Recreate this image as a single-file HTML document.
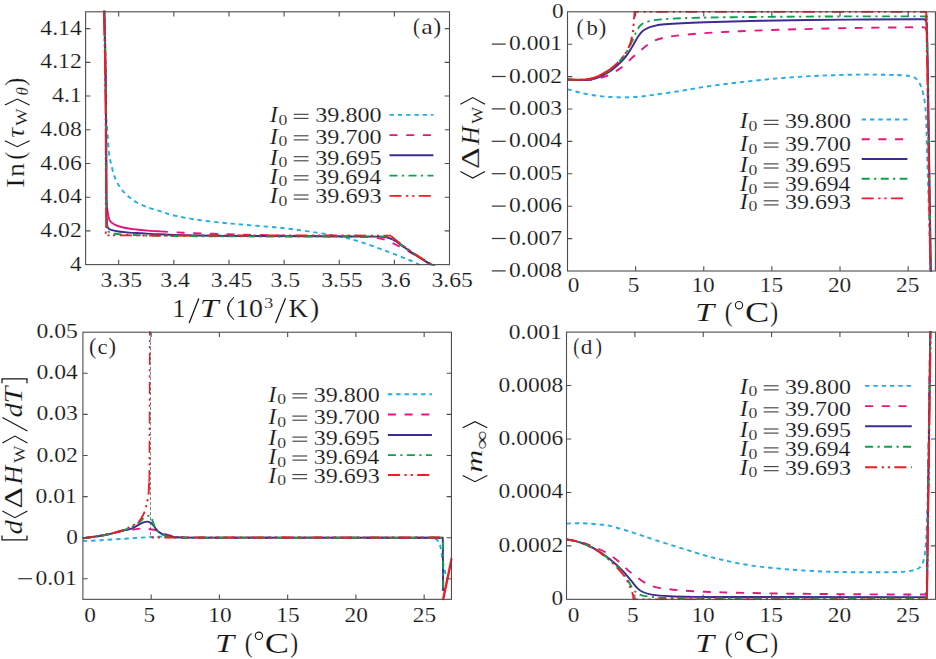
<!DOCTYPE html>
<html><head><meta charset="utf-8"><title>figure</title>
<style>html,body{margin:0;padding:0;background:#fff;overflow:hidden;width:936px;height:659px}svg{display:block;font-family:"Liberation Serif",serif;fill:#161616}text{stroke:#fff;stroke-width:0.16px}</style>
</head><body>
<svg width="936" height="659" viewBox="0 0 936 659">
<rect width="936" height="659" fill="#fff"/>
<defs>
<clipPath id="ca"><rect x="84.6" y="10.8" width="365.9" height="254.8"/></clipPath>
<clipPath id="cb"><rect x="566.5" y="10.8" width="369.9" height="261.2"/></clipPath>
<clipPath id="cc"><rect x="81.9" y="331.2" width="370.55" height="269.15"/></clipPath>
<clipPath id="cd"><rect x="565.5" y="331.1" width="371.1" height="269.25"/></clipPath>
</defs>
<path d="M104.4 10 L104.67 20.8 L104.94 31.6 L105.2 42.4 L105.4 53.2 L105.61 64 L105.75 74.8 L105.87 85.6 L105.99 96.4 L106.11 107.2 L106.23 118 L106.23 118 C106.46 120.83 107.12 129.07 107.6 135 C108.08 140.93 108.45 148.47 109.1 153.6 C109.75 158.73 110.58 161.95 111.5 165.8 C112.42 169.65 113.28 173.27 114.6 176.7 C115.92 180.13 117.38 183.37 119.4 186.4 C121.42 189.43 123.87 192.27 126.7 194.9 C129.53 197.53 132.77 200.08 136.4 202.2 C140.03 204.32 144.45 206.08 148.5 207.6 C152.55 209.12 156.82 210.07 160.7 211.3 C164.58 212.53 166 213.63 171.8 215 C177.6 216.37 186.97 218.2 195.5 219.5 C204.03 220.8 214.75 221.92 223 222.8 C231.25 223.68 234.83 223.9 245 224.8 C255.17 225.7 272.08 226.9 284 228.2 C295.92 229.5 307.25 231.23 316.5 232.6 C325.75 233.97 332.42 234.92 339.5 236.4 C346.58 237.88 351.58 239.2 359 241.5 C366.42 243.8 375.67 247.12 384 250.2 C392.33 253.28 403.17 257.6 409 260 C414.83 262.4 416.33 263.35 419 264.6 C421.67 265.85 424 267.02 425 267.5" fill="none" stroke="#22ade6" stroke-width="1.9" stroke-dasharray="4.4 3.9" clip-path="url(#ca)" stroke-linejoin="round"/>
<path d="M104.15 10 L104.62 29 L105.05 48 L105.41 67 L105.62 86 L105.83 105 L106.02 124 L106.1 143 L106.18 162 L106.27 181 L106.37 200 L106.37 200 C106.47 201.17 106.74 204.82 107 207 C107.26 209.18 107.45 210.87 107.9 213.1 C108.35 215.33 108.58 218.48 109.7 220.4 C110.82 222.32 112.17 223.38 114.6 224.6 C117.03 225.82 120.67 226.88 124.3 227.7 C127.93 228.52 132.45 229.02 136.4 229.5 C140.35 229.98 144.07 230.28 148 230.6 C151.93 230.92 158 231.27 160 231.4" fill="none" stroke="#e6167f" stroke-width="1.9" clip-path="url(#ca)" stroke-linejoin="round"/>
<path d="M160 231.4 C163.93 231.62 174.77 232.3 183.6 232.7 C192.43 233.1 202.77 233.47 213 233.8 C223.23 234.13 230.5 234.35 245 234.7 C259.5 235.05 282.5 235.6 300 235.9 C317.5 236.2 338.67 236.32 350 236.5 C361.33 236.68 363.67 236.77 368 237 C372.33 237.23 373.22 237.45 376 237.9 C378.78 238.35 381.3 238.52 384.7 239.7 C388.1 240.88 392.1 242.88 396.4 245 C400.7 247.12 406.57 250.2 410.5 252.4 C414.43 254.6 416.62 256.17 420 258.2 C423.38 260.23 428.3 263.1 430.8 264.6 C433.3 266.1 434.3 266.77 435 267.2" fill="none" stroke="#e6167f" stroke-width="1.9" stroke-dasharray="8 8.7" clip-path="url(#ca)" stroke-linejoin="round"/>
<path d="M104.3 10 L104.81 30.6 L105.27 51.2 L105.61 71.8 L105.84 92.4 L106.07 113 L106.21 133.6 L106.3 154.2 L106.39 174.8 L106.49 195.4 L106.6 216 L106.6 216 C106.69 217.4 106.88 222.43 107.1 224.4 C107.32 226.37 107.23 226.88 107.9 227.8 C108.57 228.72 109.33 229.28 111.1 229.9 C112.87 230.52 115.48 231.05 118.5 231.5 C121.52 231.95 125.28 232.3 129.2 232.6 C133.12 232.9 136.87 233.02 142 233.3 C147.13 233.58 153.07 233.98 160 234.3 C166.93 234.62 169.43 234.92 183.6 235.2 C197.77 235.48 212.27 235.77 245 236 C277.73 236.23 357.5 236.5 380 236.6 L380 236.6 C381 236.72 384.25 236.95 386 237.3 C387.75 237.65 388.97 238.08 390.5 238.7 C392.03 239.32 392.85 239.53 395.2 241 C397.55 242.47 401.07 245.05 404.6 247.5 C408.13 249.95 411.95 252.85 416.4 255.7 C420.85 258.55 428.03 262.65 431.3 264.6 C434.57 266.55 435.22 266.93 436 267.4" fill="none" stroke="#3a2c92" stroke-width="1.9" clip-path="url(#ca)" stroke-linejoin="round"/>
<path d="M104.25 10 L104.78 31.2 L105.24 52.4 L105.58 73.6 L105.82 94.8 L106.06 116 L106.17 137.2 L106.27 158.4 L106.36 179.6 L106.47 200.8 L106.58 222 L106.58 222 C106.65 223.17 106.66 227.4 107 229 C107.34 230.6 107.77 230.9 108.6 231.6 C109.43 232.3 109.37 232.7 112 233.2 C114.63 233.7 116.4 234.17 124.4 234.6 C132.4 235.03 139.9 235.5 160 235.8 C180.1 236.1 207.33 236.27 245 236.4 C282.67 236.53 362.5 236.57 386 236.6 L386 236.6 C386.83 236.83 389.33 237.32 391 238 C392.67 238.68 393.73 239.22 396 240.7 C398.27 242.18 401.2 244.5 404.6 246.9 C408 249.3 411.85 252.15 416.4 255.1 C420.95 258.05 428.63 262.58 431.9 264.6 C435.17 266.62 435.32 266.77 436 267.2" fill="none" stroke="#0aa24b" stroke-width="1.9" stroke-dasharray="8 4.4 2.2 4.4" clip-path="url(#ca)" stroke-linejoin="round"/>
<path d="M103.85 10 L104.4 31.8 L104.86 53.6 L105.2 75.4 L105.45 97.2 L105.69 119 L105.79 140.8 L105.88 162.6 L105.98 184.4 L106.1 206.2 L106.22 228" fill="none" stroke="#ee1c25" stroke-width="1.9" stroke-dasharray="26 2.5 3 2.5 3 2.5" clip-path="url(#ca)" stroke-linejoin="round"/>
<path d="M105.8 231.6 L105.8 235.4 L391 235.6" fill="none" stroke="#ee1c25" stroke-width="1.9" stroke-dasharray="2.2 3.2 2.2 3.4 2.2 4.6 12 4.6 2.2 3.9 2.2 4.4 12 4.6 2.2 3.9 2.2 4.4 12 4.6 2.2 3.9 2.2 4.4 12 4.6 2.2 3.9 2.2 4.4 12 4.6 2.2 3.9 2.2 4.4 12 4.6 2.2 3.9 2.2 4.4 12 4.6 2.2 3.9 2.2 4.4 12 4.6 2.2 3.9 2.2 4.4 12 4.6 2.2 3.9 2.2 4.4 12 4.6 2.2 3.9 2.2 4.4" clip-path="url(#ca)" stroke-linejoin="round"/>
<path d="M391 236 C391.43 236.37 392.43 237.23 393.6 238.2 C394.77 239.17 396.17 240.37 398 241.8 C399.83 243.23 401.53 244.58 404.6 246.8 C407.67 249.02 411.87 252.13 416.4 255.1 C420.93 258.07 428.53 262.57 431.8 264.6 C435.07 266.63 435.3 266.85 436 267.3" fill="none" stroke="#ee1c25" stroke-width="1.9" stroke-dasharray="12 4.6 2.2 3.9 2.2 4.4" clip-path="url(#ca)" stroke-linejoin="round"/>
<rect x="85.6" y="11.8" width="363.9" height="252.8" fill="none" stroke="#4e4e4e" stroke-width="1.1"/>
<path d="M118.68 264.6v-4.8 M118.68 11.8v4.8 M173.82 264.6v-4.8 M173.82 11.8v4.8 M228.96 264.6v-4.8 M228.96 11.8v4.8 M284.1 264.6v-4.8 M284.1 11.8v4.8 M339.24 264.6v-4.8 M339.24 11.8v4.8 M394.38 264.6v-4.8 M394.38 11.8v4.8 M85.6 230.89h4.8 M449.5 230.89h-4.8 M85.6 197.18h4.8 M449.5 197.18h-4.8 M85.6 163.47h4.8 M449.5 163.47h-4.8 M85.6 129.76h4.8 M449.5 129.76h-4.8 M85.6 96.05h4.8 M449.5 96.05h-4.8 M85.6 62.34h4.8 M449.5 62.34h-4.8 M85.6 28.63h4.8 M449.5 28.63h-4.8" stroke="#4e4e4e" stroke-width="1.1" fill="none"/>
<text x="100.61" y="286.9" font-size="22" textLength="41.35" lengthAdjust="spacingAndGlyphs">3.35</text>
<text x="160.27" y="286.9" font-size="22" textLength="29.7" lengthAdjust="spacingAndGlyphs">3.4</text>
<text x="210.89" y="286.9" font-size="22" textLength="41.35" lengthAdjust="spacingAndGlyphs">3.45</text>
<text x="270.55" y="286.9" font-size="22" textLength="29.7" lengthAdjust="spacingAndGlyphs">3.5</text>
<text x="321.17" y="286.9" font-size="22" textLength="41.35" lengthAdjust="spacingAndGlyphs">3.55</text>
<text x="380.83" y="286.9" font-size="22" textLength="29.7" lengthAdjust="spacingAndGlyphs">3.6</text>
<text x="431.45" y="286.9" font-size="22" textLength="41.35" lengthAdjust="spacingAndGlyphs">3.65</text>
<text x="70.05" y="270.7" font-size="22" textLength="11.65" lengthAdjust="spacingAndGlyphs">4</text>
<text x="40.35" y="236.99" font-size="22" textLength="41.35" lengthAdjust="spacingAndGlyphs">4.02</text>
<text x="40.35" y="203.28" font-size="22" textLength="41.35" lengthAdjust="spacingAndGlyphs">4.04</text>
<text x="40.35" y="169.57" font-size="22" textLength="41.35" lengthAdjust="spacingAndGlyphs">4.06</text>
<text x="40.35" y="135.86" font-size="22" textLength="41.35" lengthAdjust="spacingAndGlyphs">4.08</text>
<text x="52" y="102.15" font-size="22" textLength="29.7" lengthAdjust="spacingAndGlyphs">4.1</text>
<text x="40.35" y="68.44" font-size="22" textLength="41.35" lengthAdjust="spacingAndGlyphs">4.12</text>
<text x="40.35" y="34.73" font-size="22" textLength="41.35" lengthAdjust="spacingAndGlyphs">4.14</text>
<text x="172.45" y="317.1" font-size="24.7" textLength="12.78" lengthAdjust="spacingAndGlyphs">1</text>
<path d="M189.2 322.9L198.8 298.5" stroke="#161616" stroke-width="1.3"/>
<text x="199.79" y="317.1" font-size="25.3" textLength="18.81" lengthAdjust="spacingAndGlyphs" font-style="italic">T</text>
<path d="M233.8 297.2Q220.9 308.5 233.8 319.7Q222.9 308.5 233.8 297.2Z" fill="#161616" stroke="#161616" stroke-width="0.7" stroke-linejoin="round"/>
<text x="235.15" y="317.1" font-size="24.7" textLength="27.92" lengthAdjust="spacingAndGlyphs">10</text>
<text x="264.01" y="308.4" font-size="15.2" textLength="9.32" lengthAdjust="spacingAndGlyphs">3</text>
<path d="M275.6 322.9L285.5 298.2" stroke="#161616" stroke-width="1.3"/>
<text x="288.62" y="317.1" font-size="25.3" textLength="19.56" lengthAdjust="spacingAndGlyphs">K</text>
<text x="309.91" y="317.1" font-size="27.7" textLength="9.21" lengthAdjust="spacingAndGlyphs">)</text>
<text x="412.88" y="34.3" font-size="23.3" textLength="7" lengthAdjust="spacingAndGlyphs">(</text>
<text x="421.18" y="34.3" font-size="20.8" textLength="11.57" lengthAdjust="spacingAndGlyphs">a</text>
<text x="433.23" y="34.3" font-size="23.3" textLength="7.91" lengthAdjust="spacingAndGlyphs">)</text>
<g transform="translate(23.6,186.7) rotate(-90)">
<text x="-1.02" y="0" font-size="25.3" textLength="9.42" lengthAdjust="spacingAndGlyphs">I</text>
<text x="9.76" y="0" font-size="25.3" textLength="13.86" lengthAdjust="spacingAndGlyphs">n</text>
<text x="27.09" y="0" font-size="27.7" textLength="7.65" lengthAdjust="spacingAndGlyphs">(</text>
<path d="M45.9 -18.7L40 -6.35L45.9 6" fill="none" stroke="#161616" stroke-width="1.15"/>
<text x="48.68" y="0" font-size="25.3" textLength="10.07" lengthAdjust="spacingAndGlyphs" font-style="italic">τ</text>
<text x="60.98" y="3.5" font-size="17.6" textLength="17.35" lengthAdjust="spacingAndGlyphs">W</text>
<path d="M81.7 -18.7L87.6 -6.35L81.7 6" fill="none" stroke="#161616" stroke-width="1.15"/>
<text x="91.27" y="4" font-size="17.5" textLength="8.32" lengthAdjust="spacingAndGlyphs" font-style="italic">θ</text>
<text x="100.6" y="0" font-size="27.7" textLength="8.3" lengthAdjust="spacingAndGlyphs">)</text>
</g>
<text x="269.69" y="122.3" font-size="22.3" textLength="8.06" lengthAdjust="spacingAndGlyphs" font-style="italic">I</text>
<text x="278.63" y="124.9" font-size="14.2" textLength="8.85" lengthAdjust="spacingAndGlyphs">0</text>
<path d="M293.7 114.3H308.5" stroke="#3c3c3c" stroke-width="1.1"/>
<path d="M293.7 118.4H308.5" stroke="#3c3c3c" stroke-width="1.1"/>
<text x="315.24" y="122.3" font-size="22" textLength="66.43" lengthAdjust="spacingAndGlyphs">39.800</text>
<path d="M389.5 114.9H433.4" stroke="#22ade6" stroke-width="1.9" stroke-dasharray="4.4 3.9"/>
<text x="269.69" y="143.8" font-size="22.3" textLength="8.06" lengthAdjust="spacingAndGlyphs" font-style="italic">I</text>
<text x="278.63" y="146.4" font-size="14.2" textLength="8.85" lengthAdjust="spacingAndGlyphs">0</text>
<path d="M293.7 135.8H308.5" stroke="#3c3c3c" stroke-width="1.1"/>
<path d="M293.7 139.9H308.5" stroke="#3c3c3c" stroke-width="1.1"/>
<text x="315.24" y="143.8" font-size="22" textLength="66.43" lengthAdjust="spacingAndGlyphs">39.700</text>
<path d="M389.5 135.1H433.4" stroke="#e6167f" stroke-width="1.9" stroke-dasharray="8 8.7"/>
<text x="269.69" y="164.7" font-size="22.3" textLength="8.06" lengthAdjust="spacingAndGlyphs" font-style="italic">I</text>
<text x="278.63" y="167.3" font-size="14.2" textLength="8.85" lengthAdjust="spacingAndGlyphs">0</text>
<path d="M293.7 156.7H308.5" stroke="#3c3c3c" stroke-width="1.1"/>
<path d="M293.7 160.8H308.5" stroke="#3c3c3c" stroke-width="1.1"/>
<text x="315.24" y="164.7" font-size="22" textLength="66.45" lengthAdjust="spacingAndGlyphs">39.695</text>
<path d="M389.5 155.3H433.4" stroke="#3a2c92" stroke-width="1.9"/>
<text x="269.69" y="183.8" font-size="22.3" textLength="8.06" lengthAdjust="spacingAndGlyphs" font-style="italic">I</text>
<text x="278.63" y="186.4" font-size="14.2" textLength="8.85" lengthAdjust="spacingAndGlyphs">0</text>
<path d="M293.7 175.8H308.5" stroke="#3c3c3c" stroke-width="1.1"/>
<path d="M293.7 179.9H308.5" stroke="#3c3c3c" stroke-width="1.1"/>
<text x="315.25" y="183.8" font-size="22" textLength="65.87" lengthAdjust="spacingAndGlyphs">39.694</text>
<path d="M389.5 175.6H433.4" stroke="#0aa24b" stroke-width="1.9" stroke-dasharray="8 4.4 2.2 4.4"/>
<text x="269.69" y="203" font-size="22.3" textLength="8.06" lengthAdjust="spacingAndGlyphs" font-style="italic">I</text>
<text x="278.63" y="205.6" font-size="14.2" textLength="8.85" lengthAdjust="spacingAndGlyphs">0</text>
<path d="M293.7 195H308.5" stroke="#3c3c3c" stroke-width="1.1"/>
<path d="M293.7 199.1H308.5" stroke="#3c3c3c" stroke-width="1.1"/>
<text x="315.24" y="203" font-size="22" textLength="66.45" lengthAdjust="spacingAndGlyphs">39.693</text>
<path d="M389.5 195.9H433.4" stroke="#ee1c25" stroke-width="1.9" stroke-dasharray="12 4.6 2.2 3.9 2.2 4.4"/>
<path d="M567.5 89.3 C569.58 89.85 575.43 91.57 580 92.6 C584.57 93.63 589.9 94.77 594.9 95.5 C599.9 96.23 605.02 96.68 610 97 C614.98 97.32 619.8 97.47 624.8 97.4 C629.8 97.33 635.02 97.05 640 96.6 C644.98 96.15 647.25 95.75 654.7 94.7 C662.15 93.65 676.32 91.62 684.7 90.3 C693.08 88.98 695.78 88.13 705 86.8 C714.22 85.47 727.5 83.73 740 82.3 C752.5 80.87 766.67 79.3 780 78.2 C793.33 77.1 806.67 76.3 820 75.7 C833.33 75.1 848.33 74.73 860 74.6 C871.67 74.47 882.83 74.78 890 74.9 C897.17 75.02 899.67 75.08 903 75.3 C906.33 75.52 907.82 75.65 910 76.2 C912.18 76.75 914.32 77.03 916.1 78.6 C917.88 80.17 919.48 82.92 920.7 85.6 C921.92 88.28 922.65 91.37 923.4 94.7 C924.15 98.03 924.75 101.65 925.2 105.6 C925.65 109.55 925.8 111 926.1 118.4 C926.4 125.8 926.58 136.4 927 150 C927.42 163.6 928.03 179.67 928.6 200 C929.17 220.33 930.1 260 930.4 272" fill="none" stroke="#22ade6" stroke-width="1.9" stroke-dasharray="4.4 3.9" clip-path="url(#cb)" stroke-linejoin="round"/>
<path d="M567.5 79.4 C569.58 79.52 575.93 80.03 580 80.1 C584.07 80.17 588.57 80.15 591.9 79.8 C595.23 79.45 597.1 78.85 600 78 C602.9 77.15 605.73 76.45 609.3 74.7 C612.87 72.95 617.37 70.53 621.4 67.5 C625.43 64.47 630.07 59.53 633.5 56.5 C636.93 53.47 639.57 51.32 642 49.3 C644.43 47.28 645.98 45.88 648.1 44.4 C650.22 42.92 651.1 41.7 654.7 40.4 C658.3 39.1 662.72 37.72 669.7 36.6 C676.68 35.48 684.88 34.6 696.6 33.7 C708.32 32.8 722.77 31.95 740 31.2 C757.23 30.45 780 29.75 800 29.2 C820 28.65 840.83 28.22 860 27.9 C879.17 27.58 904.42 27.4 915 27.3 C925.58 27.2 922.08 27.3 923.5 27.3 L923.5 27.3 L925.8 27.9 L926.6 31 L927.3 60 L929.1 180 L930.6 272" fill="none" stroke="#e6167f" stroke-width="1.9" stroke-dasharray="8 8.7" clip-path="url(#cb)" stroke-linejoin="round"/>
<path d="M567.5 79.6 C569.58 79.68 576.25 80.12 580 80.1 C583.75 80.08 587.15 79.87 590 79.5 C592.85 79.13 593.88 79.18 597.1 77.9 C600.32 76.62 605.25 74.53 609.3 71.8 C613.35 69.07 618.37 64.43 621.4 61.5 C624.43 58.57 625.48 57.03 627.5 54.2 C629.52 51.37 631.68 47.53 633.5 44.5 C635.32 41.47 636.77 38.33 638.4 36 C640.03 33.67 641.48 31.95 643.3 30.5 C645.12 29.05 647.35 28.08 649.3 27.3 C651.25 26.52 652.38 26.32 655 25.8 C657.62 25.28 656.67 24.78 665 24.2 C673.33 23.62 689.17 22.87 705 22.3 C720.83 21.73 735.83 21.25 760 20.8 C784.17 20.35 823.33 19.85 850 19.6 C876.67 19.35 907.58 19.32 920 19.3 C932.42 19.28 923.75 19.47 924.5 19.5 L924.5 19.5 L926 20.6 L926.9 24 L927.7 60 L929.5 180 L930.9 272" fill="none" stroke="#3a2c92" stroke-width="1.9" clip-path="url(#cb)" stroke-linejoin="round"/>
<path d="M567.5 79.4 C569.58 79.47 576.25 79.87 580 79.8 C583.75 79.73 587.15 79.47 590 79 C592.85 78.53 593.88 78.43 597.1 77 C600.32 75.57 605.25 73.4 609.3 70.4 C613.35 67.4 618.37 62.32 621.4 59 C624.43 55.68 625.48 53.95 627.5 50.5 C629.52 47.05 631.88 41.75 633.5 38.3 C635.12 34.85 635.98 32.02 637.2 29.8 C638.42 27.58 639.38 26.25 640.8 25 C642.22 23.75 643.33 23.12 645.7 22.3 C648.07 21.48 650.95 20.68 655 20.1 C659.05 19.52 662.57 19.2 670 18.8 C677.43 18.4 684.6 18.02 699.6 17.7 C714.6 17.38 734.93 17.12 760 16.9 C785.07 16.68 823 16.48 850 16.4 C877 16.32 909.5 16.37 922 16.4 C934.5 16.43 924.5 16.57 925 16.6 L925 16.6 L926.2 17.6 L926.8 22 L927.5 60 L929.3 180 L930.7 272" fill="none" stroke="#0aa24b" stroke-width="1.9" stroke-dasharray="8 4.4 2.2 4.4" clip-path="url(#cb)" stroke-linejoin="round"/>
<path d="M567.5 79.5 C569.58 79.55 576.25 79.92 580 79.8 C583.75 79.68 587.15 79.33 590 78.8 C592.85 78.27 594.93 77.47 597.1 76.6 C599.27 75.73 600.97 74.72 603 73.6 C605.03 72.48 608.25 70.52 609.3 69.9" fill="none" stroke="#ee1c25" stroke-width="1.9" clip-path="url(#cb)" stroke-linejoin="round"/>
<path d="M609.3 69.9 C610.72 68.68 615.18 65.23 617.8 62.6 C620.42 59.97 622.98 57.13 625 54.1 C627.02 51.07 628.58 48.03 629.9 44.4 C631.22 40.77 632.23 36.35 632.9 32.3 C633.57 28.25 633.65 23.03 633.9 20.1 C634.15 17.17 634.28 16.08 634.4 14.7 C634.52 13.32 634.57 12.28 634.6 11.8 L634.6 11.8 L926.2 11.8" fill="none" stroke="#ee1c25" stroke-width="1.9" stroke-dasharray="12 4.6 2.2 3.9 2.2 4.4" clip-path="url(#cb)" stroke-linejoin="miter"/>
<path d="M926.2 11.8 L927.2 60 L929 180 L930.4 272" fill="none" stroke="#ee1c25" stroke-width="1.9" stroke-dasharray="30 2.5 3 2.5 3 2.5" clip-path="url(#cb)" stroke-linejoin="round"/>
<rect x="567.5" y="11.8" width="367.9" height="259.2" fill="none" stroke="#4e4e4e" stroke-width="1.1"/>
<path d="M635.63 271v-4.8 M635.63 11.8v4.8 M703.76 271v-4.8 M703.76 11.8v4.8 M771.89 271v-4.8 M771.89 11.8v4.8 M840.02 271v-4.8 M840.02 11.8v4.8 M908.15 271v-4.8 M908.15 11.8v4.8 M567.5 44.2h4.8 M935.4 44.2h-4.8 M567.5 76.6h4.8 M935.4 76.6h-4.8 M567.5 109h4.8 M935.4 109h-4.8 M567.5 141.4h4.8 M935.4 141.4h-4.8 M567.5 173.8h4.8 M935.4 173.8h-4.8 M567.5 206.2h4.8 M935.4 206.2h-4.8 M567.5 238.6h4.8 M935.4 238.6h-4.8" stroke="#4e4e4e" stroke-width="1.1" fill="none"/>
<text x="567.68" y="291.5" font-size="22" textLength="11.65" lengthAdjust="spacingAndGlyphs">0</text>
<text x="627.71" y="291.5" font-size="22" textLength="11.65" lengthAdjust="spacingAndGlyphs">5</text>
<text x="691.41" y="291.5" font-size="22" textLength="23.3" lengthAdjust="spacingAndGlyphs">10</text>
<text x="759.84" y="291.5" font-size="22" textLength="23.3" lengthAdjust="spacingAndGlyphs">15</text>
<text x="827.97" y="291.5" font-size="22" textLength="23.3" lengthAdjust="spacingAndGlyphs">20</text>
<text x="896.1" y="291.5" font-size="22" textLength="23.3" lengthAdjust="spacingAndGlyphs">25</text>
<text x="551.95" y="17.6" font-size="22" textLength="11.65" lengthAdjust="spacingAndGlyphs">0</text>
<text x="509" y="50.2" font-size="22" textLength="53" lengthAdjust="spacingAndGlyphs">0.001</text>
<path d="M491.8 44.1H505.7" stroke="#3a3a3a" stroke-width="1.25"/>
<text x="509" y="82.6" font-size="22" textLength="53" lengthAdjust="spacingAndGlyphs">0.002</text>
<path d="M491.8 76.5H505.7" stroke="#3a3a3a" stroke-width="1.25"/>
<text x="509" y="115" font-size="22" textLength="53" lengthAdjust="spacingAndGlyphs">0.003</text>
<path d="M491.8 108.9H505.7" stroke="#3a3a3a" stroke-width="1.25"/>
<text x="509" y="147.4" font-size="22" textLength="53" lengthAdjust="spacingAndGlyphs">0.004</text>
<path d="M491.8 141.3H505.7" stroke="#3a3a3a" stroke-width="1.25"/>
<text x="509" y="179.8" font-size="22" textLength="53" lengthAdjust="spacingAndGlyphs">0.005</text>
<path d="M491.8 173.7H505.7" stroke="#3a3a3a" stroke-width="1.25"/>
<text x="509" y="212.2" font-size="22" textLength="53" lengthAdjust="spacingAndGlyphs">0.006</text>
<path d="M491.8 206.1H505.7" stroke="#3a3a3a" stroke-width="1.25"/>
<text x="509" y="244.6" font-size="22" textLength="53" lengthAdjust="spacingAndGlyphs">0.007</text>
<path d="M491.8 238.5H505.7" stroke="#3a3a3a" stroke-width="1.25"/>
<text x="509" y="277" font-size="22" textLength="53" lengthAdjust="spacingAndGlyphs">0.008</text>
<path d="M491.8 270.9H505.7" stroke="#3a3a3a" stroke-width="1.25"/>
<text x="576.56" y="34.6" font-size="23.3" textLength="7.13" lengthAdjust="spacingAndGlyphs">(</text>
<text x="586.5" y="34.6" font-size="21.8" textLength="11.37" lengthAdjust="spacingAndGlyphs">b</text>
<text x="598.87" y="34.6" font-size="23.3" textLength="7.52" lengthAdjust="spacingAndGlyphs">)</text>
<text x="695.05" y="321" font-size="25.3" textLength="19.12" lengthAdjust="spacingAndGlyphs" font-style="italic">T</text>
<text x="724.76" y="321" font-size="27.7" textLength="7.91" lengthAdjust="spacingAndGlyphs">(</text>
<circle cx="739" cy="305.2" r="3.65" fill="none" stroke="#161616" stroke-width="1.1"/>
<text x="744.91" y="321.9" font-size="30" textLength="24.31" lengthAdjust="spacingAndGlyphs">C</text>
<text x="770.23" y="321" font-size="27.7" textLength="7.91" lengthAdjust="spacingAndGlyphs">)</text>
<g transform="translate(479.4,178) rotate(-90)">
<path d="M6.6 -19L0 -6.7L6.6 5.6" fill="none" stroke="#161616" stroke-width="1.15"/>
<text x="9.02" y="0" font-size="25.3" textLength="21.53" lengthAdjust="spacingAndGlyphs">Δ</text>
<text x="33.37" y="0" font-size="25.3" textLength="18.48" lengthAdjust="spacingAndGlyphs" font-style="italic">H</text>
<text x="54.28" y="3.2" font-size="17.6" textLength="16.75" lengthAdjust="spacingAndGlyphs">W</text>
<path d="M73.8 -19L80.4 -6.7L73.8 5.6" fill="none" stroke="#161616" stroke-width="1.15"/>
</g>
<text x="739.69" y="128.3" font-size="22.3" textLength="8.06" lengthAdjust="spacingAndGlyphs" font-style="italic">I</text>
<text x="748.63" y="130.9" font-size="14.2" textLength="8.85" lengthAdjust="spacingAndGlyphs">0</text>
<path d="M763.7 120.3H778.5" stroke="#3c3c3c" stroke-width="1.1"/>
<path d="M763.7 124.4H778.5" stroke="#3c3c3c" stroke-width="1.1"/>
<text x="785.05" y="128.3" font-size="22" textLength="65.96" lengthAdjust="spacingAndGlyphs">39.800</text>
<path d="M861.7 119.5H907.4" stroke="#22ade6" stroke-width="1.9" stroke-dasharray="4.4 3.9"/>
<text x="739.69" y="151" font-size="22.3" textLength="8.06" lengthAdjust="spacingAndGlyphs" font-style="italic">I</text>
<text x="748.63" y="153.6" font-size="14.2" textLength="8.85" lengthAdjust="spacingAndGlyphs">0</text>
<path d="M763.7 143H778.5" stroke="#3c3c3c" stroke-width="1.1"/>
<path d="M763.7 147.1H778.5" stroke="#3c3c3c" stroke-width="1.1"/>
<text x="785.05" y="151" font-size="22" textLength="65.96" lengthAdjust="spacingAndGlyphs">39.700</text>
<path d="M861.7 139.3H907.4" stroke="#e6167f" stroke-width="1.9" stroke-dasharray="8 8.7"/>
<text x="739.69" y="171.9" font-size="22.3" textLength="8.06" lengthAdjust="spacingAndGlyphs" font-style="italic">I</text>
<text x="748.63" y="174.5" font-size="14.2" textLength="8.85" lengthAdjust="spacingAndGlyphs">0</text>
<path d="M763.7 163.9H778.5" stroke="#3c3c3c" stroke-width="1.1"/>
<path d="M763.7 168H778.5" stroke="#3c3c3c" stroke-width="1.1"/>
<text x="785.05" y="171.9" font-size="22" textLength="65.99" lengthAdjust="spacingAndGlyphs">39.695</text>
<path d="M861.7 159H907.4" stroke="#3a2c92" stroke-width="1.9"/>
<text x="739.69" y="191" font-size="22.3" textLength="8.06" lengthAdjust="spacingAndGlyphs" font-style="italic">I</text>
<text x="748.63" y="193.6" font-size="14.2" textLength="8.85" lengthAdjust="spacingAndGlyphs">0</text>
<path d="M763.7 183H778.5" stroke="#3c3c3c" stroke-width="1.1"/>
<path d="M763.7 187.1H778.5" stroke="#3c3c3c" stroke-width="1.1"/>
<text x="785.06" y="191" font-size="22" textLength="65.41" lengthAdjust="spacingAndGlyphs">39.694</text>
<path d="M861.7 178.8H907.4" stroke="#0aa24b" stroke-width="1.9" stroke-dasharray="8 4.4 2.2 4.4"/>
<text x="739.69" y="208.8" font-size="22.3" textLength="8.06" lengthAdjust="spacingAndGlyphs" font-style="italic">I</text>
<text x="748.63" y="211.4" font-size="14.2" textLength="8.85" lengthAdjust="spacingAndGlyphs">0</text>
<path d="M763.7 200.8H778.5" stroke="#3c3c3c" stroke-width="1.1"/>
<path d="M763.7 204.9H778.5" stroke="#3c3c3c" stroke-width="1.1"/>
<text x="785.05" y="208.8" font-size="22" textLength="65.99" lengthAdjust="spacingAndGlyphs">39.693</text>
<path d="M861.7 198.4H907.4" stroke="#ee1c25" stroke-width="1.9" stroke-dasharray="12 4.6 2.2 3.9 2.2 4.4"/>
<path d="M82.9 541.1 C85.75 540.95 93.45 540.57 100 540.2 C106.55 539.83 115.53 539.32 122.2 538.9 C128.87 538.48 135.03 538.02 140 537.7 C144.97 537.38 148.67 537.18 152 537 C155.33 536.82 157 536.57 160 536.6 C163 536.63 163.33 537.02 170 537.2 C176.67 537.38 178.33 537.62 200 537.7 C221.67 537.78 261.67 537.68 300 537.7 C338.33 537.72 407.57 537.65 430 537.8 C452.43 537.95 433.27 538.07 434.6 538.6 C435.93 539.13 437.03 539.68 438 541 C438.97 542.32 439.63 543.33 440.4 546.5 C441.17 549.67 441.75 555.45 442.6 560 C443.45 564.55 444.77 570.63 445.5 573.8 C446.23 576.97 446.75 578.13 447 579" fill="none" stroke="#22ade6" stroke-width="1.9" stroke-dasharray="4.4 3.9" clip-path="url(#cc)" stroke-linejoin="round"/>
<path d="M82.9 538.2 C85.08 537.92 91.72 537.17 96 536.5 C100.28 535.83 104.6 535.03 108.6 534.2 C112.6 533.37 116.28 532.2 120 531.5 C123.72 530.8 127.97 530.43 130.9 530 C133.83 529.57 135.58 529.13 137.6 528.9 C139.62 528.67 141.38 528.6 143 528.6 C144.62 528.6 145.47 528.7 147.3 528.9 C149.13 529.1 152.22 529.42 154 529.8 C155.78 530.18 156.58 530.63 158 531.2 C159.42 531.77 160.33 532.47 162.5 533.2 C164.67 533.93 168.08 534.93 171 535.6 C173.92 536.27 176.83 536.85 180 537.2 C183.17 537.55 188.33 537.62 190 537.7 L190 537.7 L442.9 537.8 L443.2 591" fill="none" stroke="#e6167f" stroke-width="1.9" stroke-dasharray="8 8.7" clip-path="url(#cc)" stroke-linejoin="round"/>
<path d="M82.9 538.2 C85.08 537.92 91.72 537.17 96 536.5 C100.28 535.83 104.93 534.97 108.6 534.2 C112.27 533.43 115.27 532.57 118 531.9 C120.73 531.23 122.65 530.8 125 530.2 C127.35 529.6 129.7 529.28 132.1 528.3 C134.5 527.32 137.5 525.3 139.4 524.3 C141.3 523.3 142.18 522.75 143.5 522.3 C144.82 521.85 146.15 521.55 147.3 521.6 C148.45 521.65 149.48 522.1 150.4 522.6 C151.32 523.1 151.8 523.45 152.8 524.6 C153.8 525.75 154.98 527.98 156.4 529.5 C157.82 531.02 159.28 532.6 161.3 533.7 C163.32 534.8 166.28 535.55 168.5 536.1 C170.72 536.65 171.92 536.75 174.6 537 C177.28 537.25 182.93 537.5 184.6 537.6 L184.6 537.6 L442.8 537.8 L443.1 591" fill="none" stroke="#3a2c92" stroke-width="1.9" clip-path="url(#cc)" stroke-linejoin="round"/>
<path d="M82.9 538.2 C85.08 537.92 91.72 537.17 96 536.5 C100.28 535.83 104.6 535.07 108.6 534.2 C112.6 533.33 116.43 532.37 120 531.3 C123.57 530.23 127.33 528.95 130 527.8 C132.67 526.65 134.23 525.53 136 524.4 C137.77 523.27 139.18 522.17 140.6 521 C142.02 519.83 143.28 518.25 144.5 517.4 C145.72 516.55 146.82 516.02 147.9 515.9 C148.98 515.78 150.08 515.45 151 516.7 C151.92 517.95 152.5 521.27 153.4 523.4 C154.3 525.53 155.3 527.88 156.4 529.5 C157.5 531.12 158.38 532 160 533.1 C161.62 534.2 164.1 535.4 166.1 536.1 C168.1 536.8 168.92 537.03 172 537.3 C175.08 537.57 182.5 537.63 184.6 537.7 L184.6 537.7 L442.9 537.8 L443.2 591" fill="none" stroke="#0aa24b" stroke-width="1.9" stroke-dasharray="8 4.4 2.2 4.4" clip-path="url(#cc)" stroke-linejoin="round"/>
<path d="M82.9 538.2 C85.08 537.92 91.72 537.18 96 536.5 C100.28 535.82 104.6 535.02 108.6 534.1 C112.6 533.18 116.43 532.22 120 531 C123.57 529.78 126.97 528.27 130 526.8 C133.03 525.33 136.28 523.67 138.2 522.2 C140.12 520.73 140.48 519.62 141.5 518 C142.52 516.38 143.55 514.33 144.3 512.5 C145.05 510.67 145.5 508.82 146 507 C146.5 505.18 146.88 503.72 147.3 501.6 C147.72 499.48 148.23 496.57 148.5 494.3 C148.77 492.03 148.8 490.05 148.9 488 C149 485.95 149.07 483 149.1 482" fill="none" stroke="#ee1c25" stroke-width="1.9" stroke-dasharray="12 4.6 2.2 3.9 2.2 4.4" clip-path="url(#cc)" stroke-linejoin="round"/>
<path d="M149.1 482 L149.3 471 L149.5 420 L149.7 330" fill="none" stroke="#ee1c25" stroke-width="1.45" stroke-dasharray="12 4.6 2.2 3.9 2.2 4.4" clip-path="url(#cc)" stroke-linejoin="round"/>
<path d="M150.5 332V537.4" stroke="#4a4f4c" stroke-width="0.7" stroke-dasharray="3.2 1.8" clip-path="url(#cc)"/>
<path d="M151.6 537.5H442.8" fill="none" stroke="#ee1c25" stroke-width="1.9" stroke-dasharray="12 4.6 2.2 3.9 2.2 4.4" stroke-dashoffset="16.6"/>
<path d="M442.9 600.4 L451.8 558" fill="none" stroke="#ee1c25" stroke-width="2.4" clip-path="url(#cc)" stroke-linejoin="round"/>
<rect x="82.9" y="332.2" width="368.55" height="267.15" fill="none" stroke="#4e4e4e" stroke-width="1.1"/>
<path d="M151.15 599.35v-4.8 M151.15 332.2v4.8 M219.4 599.35v-4.8 M219.4 332.2v4.8 M287.65 599.35v-4.8 M287.65 332.2v4.8 M355.9 599.35v-4.8 M355.9 332.2v4.8 M424.15 599.35v-4.8 M424.15 332.2v4.8 M82.9 578.8h4.8 M451.45 578.8h-4.8 M82.9 537.7h4.8 M451.45 537.7h-4.8 M82.9 496.6h4.8 M451.45 496.6h-4.8 M82.9 455.5h4.8 M451.45 455.5h-4.8 M82.9 414.4h4.8 M451.45 414.4h-4.8 M82.9 373.3h4.8 M451.45 373.3h-4.8" stroke="#4e4e4e" stroke-width="1.1" fill="none"/>
<text x="84.38" y="621.8" font-size="22" textLength="11.65" lengthAdjust="spacingAndGlyphs">0</text>
<text x="143.42" y="621.8" font-size="22" textLength="11.65" lengthAdjust="spacingAndGlyphs">5</text>
<text x="208.25" y="621.8" font-size="22" textLength="23.3" lengthAdjust="spacingAndGlyphs">10</text>
<text x="276.3" y="621.8" font-size="22" textLength="23.3" lengthAdjust="spacingAndGlyphs">15</text>
<text x="344.55" y="621.8" font-size="22" textLength="23.3" lengthAdjust="spacingAndGlyphs">20</text>
<text x="412.8" y="621.8" font-size="22" textLength="23.3" lengthAdjust="spacingAndGlyphs">25</text>
<text x="36.45" y="337.7" font-size="22" textLength="41.35" lengthAdjust="spacingAndGlyphs">0.05</text>
<text x="36.45" y="379.3" font-size="22" textLength="41.35" lengthAdjust="spacingAndGlyphs">0.04</text>
<text x="36.45" y="420.4" font-size="22" textLength="41.35" lengthAdjust="spacingAndGlyphs">0.03</text>
<text x="36.45" y="461.5" font-size="22" textLength="41.35" lengthAdjust="spacingAndGlyphs">0.02</text>
<text x="35.45" y="502.6" font-size="22" textLength="41.35" lengthAdjust="spacingAndGlyphs">0.01</text>
<text x="66.15" y="543.7" font-size="22" textLength="11.65" lengthAdjust="spacingAndGlyphs">0</text>
<text x="35.45" y="584.8" font-size="22" textLength="41.35" lengthAdjust="spacingAndGlyphs">0.01</text>
<path d="M18.25 578.7H32.15" stroke="#3a3a3a" stroke-width="1.25"/>
<text x="89.12" y="353.6" font-size="23.3" textLength="7.39" lengthAdjust="spacingAndGlyphs">(</text>
<text x="97.53" y="353.6" font-size="20.8" textLength="10.18" lengthAdjust="spacingAndGlyphs">c</text>
<text x="108.57" y="353.6" font-size="23.3" textLength="7.52" lengthAdjust="spacingAndGlyphs">)</text>
<text x="214.95" y="651.6" font-size="25.3" textLength="19.12" lengthAdjust="spacingAndGlyphs" font-style="italic">T</text>
<text x="244.66" y="651.6" font-size="27.7" textLength="7.91" lengthAdjust="spacingAndGlyphs">(</text>
<circle cx="258.9" cy="635.8" r="3.65" fill="none" stroke="#161616" stroke-width="1.1"/>
<text x="264.81" y="652.5" font-size="30" textLength="24.31" lengthAdjust="spacingAndGlyphs">C</text>
<text x="290.13" y="651.6" font-size="27.7" textLength="7.91" lengthAdjust="spacingAndGlyphs">)</text>
<g transform="translate(21.8,540.5) rotate(-90)">
<path d="M5 -19.8H0.7V5.2H5" fill="none" stroke="#161616" stroke-width="1.25"/>
<text x="6.03" y="0" font-size="25.3" textLength="14.4" lengthAdjust="spacingAndGlyphs" font-style="italic">d</text>
<path d="M29.6 -19.4L22.8 -6.9L29.6 5.6" fill="none" stroke="#161616" stroke-width="1.15"/>
<text x="32.13" y="0" font-size="25.3" textLength="21.42" lengthAdjust="spacingAndGlyphs">Δ</text>
<text x="55.98" y="0" font-size="25.3" textLength="18.94" lengthAdjust="spacingAndGlyphs" font-style="italic">H</text>
<text x="77.58" y="3.2" font-size="17.6" textLength="17.45" lengthAdjust="spacingAndGlyphs">W</text>
<path d="M97.6 -19.4L104.4 -6.9L97.6 5.6" fill="none" stroke="#161616" stroke-width="1.15"/>
<path d="M109.6 5.6L122.9 -19.4" stroke="#161616" stroke-width="1.15"/>
<text x="123.13" y="0" font-size="25.3" textLength="14.4" lengthAdjust="spacingAndGlyphs" font-style="italic">d</text>
<text x="137.11" y="0" font-size="25.3" textLength="16.89" lengthAdjust="spacingAndGlyphs" font-style="italic">T</text>
<path d="M157.3 -19.8H161.6V5.2H157.3" fill="none" stroke="#161616" stroke-width="1.25"/>
</g>
<text x="268.39" y="401.8" font-size="22.3" textLength="8.06" lengthAdjust="spacingAndGlyphs" font-style="italic">I</text>
<text x="277.33" y="404.4" font-size="14.2" textLength="8.85" lengthAdjust="spacingAndGlyphs">0</text>
<path d="M292.4 393.8H307.2" stroke="#3c3c3c" stroke-width="1.1"/>
<path d="M292.4 397.9H307.2" stroke="#3c3c3c" stroke-width="1.1"/>
<text x="313.75" y="401.8" font-size="22" textLength="66.06" lengthAdjust="spacingAndGlyphs">39.800</text>
<path d="M387.9 394.2H431.9" stroke="#22ade6" stroke-width="1.9" stroke-dasharray="4.4 3.9"/>
<text x="268.39" y="424.1" font-size="22.3" textLength="8.06" lengthAdjust="spacingAndGlyphs" font-style="italic">I</text>
<text x="277.33" y="426.7" font-size="14.2" textLength="8.85" lengthAdjust="spacingAndGlyphs">0</text>
<path d="M292.4 416.1H307.2" stroke="#3c3c3c" stroke-width="1.1"/>
<path d="M292.4 420.2H307.2" stroke="#3c3c3c" stroke-width="1.1"/>
<text x="313.75" y="424.1" font-size="22" textLength="66.06" lengthAdjust="spacingAndGlyphs">39.700</text>
<path d="M387.9 414.5H431.9" stroke="#e6167f" stroke-width="1.9" stroke-dasharray="8 8.7"/>
<text x="268.39" y="445.1" font-size="22.3" textLength="8.06" lengthAdjust="spacingAndGlyphs" font-style="italic">I</text>
<text x="277.33" y="447.7" font-size="14.2" textLength="8.85" lengthAdjust="spacingAndGlyphs">0</text>
<path d="M292.4 437.1H307.2" stroke="#3c3c3c" stroke-width="1.1"/>
<path d="M292.4 441.2H307.2" stroke="#3c3c3c" stroke-width="1.1"/>
<text x="313.75" y="445.1" font-size="22" textLength="66.09" lengthAdjust="spacingAndGlyphs">39.695</text>
<path d="M387.9 435H431.9" stroke="#3a2c92" stroke-width="1.9"/>
<text x="268.39" y="464" font-size="22.3" textLength="8.06" lengthAdjust="spacingAndGlyphs" font-style="italic">I</text>
<text x="277.33" y="466.6" font-size="14.2" textLength="8.85" lengthAdjust="spacingAndGlyphs">0</text>
<path d="M292.4 456H307.2" stroke="#3c3c3c" stroke-width="1.1"/>
<path d="M292.4 460.1H307.2" stroke="#3c3c3c" stroke-width="1.1"/>
<text x="313.76" y="464" font-size="22" textLength="65.51" lengthAdjust="spacingAndGlyphs">39.694</text>
<path d="M387.9 455.1H431.9" stroke="#0aa24b" stroke-width="1.9" stroke-dasharray="8 4.4 2.2 4.4"/>
<text x="268.39" y="482.6" font-size="22.3" textLength="8.06" lengthAdjust="spacingAndGlyphs" font-style="italic">I</text>
<text x="277.33" y="485.2" font-size="14.2" textLength="8.85" lengthAdjust="spacingAndGlyphs">0</text>
<path d="M292.4 474.6H307.2" stroke="#3c3c3c" stroke-width="1.1"/>
<path d="M292.4 478.7H307.2" stroke="#3c3c3c" stroke-width="1.1"/>
<text x="313.75" y="482.6" font-size="22" textLength="66.09" lengthAdjust="spacingAndGlyphs">39.693</text>
<path d="M387.9 475H431.9" stroke="#ee1c25" stroke-width="1.9" stroke-dasharray="12 4.6 2.2 3.9 2.2 4.4"/>
<path d="M566.5 523.6 C568.42 523.53 574.52 523.22 578 523.2 C581.48 523.18 583.73 523.27 587.4 523.5 C591.07 523.73 596.25 524.2 600 524.6 C603.75 525 604.52 524.6 609.9 525.9 C615.28 527.2 624.83 530.07 632.3 532.4 C639.77 534.73 645.97 537.1 654.7 539.9 C663.43 542.7 676.32 546.6 684.7 549.2 C693.08 551.8 698.62 553.7 705 555.5 C711.38 557.3 715.45 558.35 723 560 C730.55 561.65 738.97 563.8 750.3 565.4 C761.63 567 777.42 568.53 791 569.6 C804.58 570.67 818.22 571.35 831.8 571.8 C845.38 572.25 861.13 572.28 872.5 572.3 C883.87 572.32 893.42 572.18 900 571.9 C906.58 571.62 908.9 571.22 912 570.6 C915.1 569.98 916.93 569.22 918.6 568.2 C920.27 567.18 921.03 566.37 922 564.5 C922.97 562.63 923.73 560.58 924.4 557 C925.07 553.42 925.57 549.17 926 543 C926.43 536.83 926.7 528.83 927 520 C927.3 511.17 927.47 506.67 927.8 490 C928.13 473.33 928.6 446.67 929 420 C929.4 393.33 930 345 930.2 330" fill="none" stroke="#22ade6" stroke-width="1.9" stroke-dasharray="4.4 3.9" clip-path="url(#cd)" stroke-linejoin="round"/>
<path d="M566.5 539.2 C568.75 539.67 575.27 540.67 580 542 C584.73 543.33 589.92 545.05 594.9 547.2 C599.88 549.35 605.55 552.17 609.9 554.9 C614.25 557.63 617.92 560.98 621 563.6 C624.08 566.22 626.02 568.55 628.4 570.6 C630.78 572.65 632.65 573.93 635.3 575.9 C637.95 577.87 641.07 580.58 644.3 582.4 C647.53 584.22 650.47 585.65 654.7 586.8 C658.93 587.95 664.7 588.67 669.7 589.3 C674.7 589.93 678.82 590.18 684.7 590.6 C690.58 591.02 698.62 591.5 705 591.8 C711.38 592.1 710.92 592.12 723 592.4 C735.08 592.68 754.83 593.18 777.5 593.5 C800.17 593.82 834.28 594.13 859 594.3 C883.72 594.47 914.67 594.47 925.8 594.5 L925.8 594.5 L926.7 590 L930.2 330" fill="none" stroke="#e6167f" stroke-width="1.9" stroke-dasharray="8 8.7" clip-path="url(#cd)" stroke-linejoin="round"/>
<path d="M566.5 539.4 C568.75 539.88 575.27 540.72 580 542.3 C584.73 543.88 589.92 546.07 594.9 548.9 C599.88 551.73 605.42 555.82 609.9 559.3 C614.38 562.78 618.32 566.32 621.8 569.8 C625.28 573.28 628.3 577.23 630.8 580.2 C633.3 583.17 634.8 585.63 636.8 587.6 C638.8 589.57 640.32 590.83 642.8 592 C645.28 593.17 647.22 593.9 651.7 594.6 C656.18 595.3 661.65 595.8 669.7 596.2 C677.75 596.6 694.95 596.87 700 597 L700 597 L926.5 597.1 L927 590 L930.3 330" fill="none" stroke="#3a2c92" stroke-width="1.9" clip-path="url(#cd)" stroke-linejoin="round"/>
<path d="M566.5 539.4 C568.75 539.9 575.27 540.78 580 542.4 C584.73 544.02 589.92 546.2 594.9 549.1 C599.88 552 605.42 556.08 609.9 559.8 C614.38 563.52 618.82 567.98 621.8 571.4 C624.78 574.82 626.05 577.57 627.8 580.3 C629.55 583.03 630.8 585.68 632.3 587.8 C633.8 589.92 635.05 591.7 636.8 593 C638.55 594.3 639.82 594.9 642.8 595.6 C645.78 596.3 650.22 596.8 654.7 597.2 C659.18 597.6 653.82 597.8 669.7 598 C685.58 598.2 736.62 598.33 750 598.4 L750 598.4 L926.5 598.4 L927 590 L930.3 330" fill="none" stroke="#0aa24b" stroke-width="1.9" stroke-dasharray="8 4.4 2.2 4.4" clip-path="url(#cd)" stroke-linejoin="round"/>
<path d="M566.5 539.4 C568.75 539.92 575.27 540.85 580 542.5 C584.73 544.15 589.92 546.28 594.9 549.3 C599.88 552.32 605.42 556.68 609.9 560.6 C614.38 564.52 618.82 569.27 621.8 572.8 C624.78 576.33 626.17 578.8 627.8 581.8 C629.43 584.8 630.72 588.55 631.6 590.8 C632.48 593.05 632.78 593.87 633.1 595.3 C633.42 596.73 633.43 598.72 633.5 599.4 L633.5 599.4 L926.9 599.4" fill="none" stroke="#ee1c25" stroke-width="1.9" stroke-dasharray="12 4.6 2.2 3.9 2.2 4.4" clip-path="url(#cd)" stroke-linejoin="miter"/>
<path d="M926.9 599.8 L927.1 592 L930.7 330" fill="none" stroke="#ee1c25" stroke-width="1.9" stroke-dasharray="30 2.5 3 2.5 3 2.5" clip-path="url(#cd)" stroke-linejoin="round"/>
<rect x="566.5" y="332.1" width="369.1" height="267.25" fill="none" stroke="#4e4e4e" stroke-width="1.1"/>
<path d="M634.86 599.35v-4.8 M634.86 332.1v4.8 M703.22 599.35v-4.8 M703.22 332.1v4.8 M771.58 599.35v-4.8 M771.58 332.1v4.8 M839.94 599.35v-4.8 M839.94 332.1v4.8 M908.3 599.35v-4.8 M908.3 332.1v4.8 M566.5 545.9h4.8 M935.6 545.9h-4.8 M566.5 492.45h4.8 M935.6 492.45h-4.8 M566.5 439h4.8 M935.6 439h-4.8 M566.5 385.55h4.8 M935.6 385.55h-4.8" stroke="#4e4e4e" stroke-width="1.1" fill="none"/>
<text x="567.88" y="622" font-size="22" textLength="11.65" lengthAdjust="spacingAndGlyphs">0</text>
<text x="627.04" y="622" font-size="22" textLength="11.65" lengthAdjust="spacingAndGlyphs">5</text>
<text x="691.47" y="622" font-size="22" textLength="23.3" lengthAdjust="spacingAndGlyphs">10</text>
<text x="759.53" y="622" font-size="22" textLength="23.3" lengthAdjust="spacingAndGlyphs">15</text>
<text x="827.89" y="622" font-size="22" textLength="23.3" lengthAdjust="spacingAndGlyphs">20</text>
<text x="896.25" y="622" font-size="22" textLength="23.3" lengthAdjust="spacingAndGlyphs">25</text>
<text x="508.8" y="338.8" font-size="22" textLength="53" lengthAdjust="spacingAndGlyphs">0.001</text>
<text x="498.55" y="391.55" font-size="22" textLength="64.65" lengthAdjust="spacingAndGlyphs">0.0008</text>
<text x="498.55" y="445" font-size="22" textLength="64.65" lengthAdjust="spacingAndGlyphs">0.0006</text>
<text x="498.55" y="498.45" font-size="22" textLength="64.65" lengthAdjust="spacingAndGlyphs">0.0004</text>
<text x="498.55" y="551.9" font-size="22" textLength="64.65" lengthAdjust="spacingAndGlyphs">0.0002</text>
<text x="551.55" y="605.35" font-size="22" textLength="11.65" lengthAdjust="spacingAndGlyphs">0</text>
<text x="573.18" y="353.7" font-size="23.3" textLength="6.22" lengthAdjust="spacingAndGlyphs">(</text>
<text x="580.85" y="353.7" font-size="21.4" textLength="11.73" lengthAdjust="spacingAndGlyphs">d</text>
<text x="595.15" y="353.7" font-size="23.3" textLength="6.74" lengthAdjust="spacingAndGlyphs">)</text>
<text x="695.05" y="651.6" font-size="25.3" textLength="19.12" lengthAdjust="spacingAndGlyphs" font-style="italic">T</text>
<text x="724.76" y="651.6" font-size="27.7" textLength="7.91" lengthAdjust="spacingAndGlyphs">(</text>
<circle cx="739" cy="635.8" r="3.65" fill="none" stroke="#161616" stroke-width="1.1"/>
<text x="744.91" y="652.5" font-size="30" textLength="24.31" lengthAdjust="spacingAndGlyphs">C</text>
<text x="770.23" y="651.6" font-size="27.7" textLength="7.91" lengthAdjust="spacingAndGlyphs">)</text>
<g transform="translate(481.6,481.7) rotate(-90)">
<path d="M6.1 -18.9L0 -6.6L6.1 5.7" fill="none" stroke="#161616" stroke-width="1.15"/>
<text x="9.05" y="0" font-size="24.1" textLength="22.99" lengthAdjust="spacingAndGlyphs" font-style="italic">m</text>
<text x="31.8" y="6" font-size="19.5" textLength="19.02" lengthAdjust="spacingAndGlyphs">∞</text>
<path d="M53.9 -18.9L60 -6.6L53.9 5.7" fill="none" stroke="#161616" stroke-width="1.15"/>
</g>
<text x="739.69" y="393.8" font-size="22.3" textLength="8.06" lengthAdjust="spacingAndGlyphs" font-style="italic">I</text>
<text x="748.63" y="396.4" font-size="14.2" textLength="8.85" lengthAdjust="spacingAndGlyphs">0</text>
<path d="M763.7 385.8H778.5" stroke="#3c3c3c" stroke-width="1.1"/>
<path d="M763.7 389.9H778.5" stroke="#3c3c3c" stroke-width="1.1"/>
<text x="785.05" y="393.8" font-size="22" textLength="65.96" lengthAdjust="spacingAndGlyphs">39.800</text>
<path d="M865.1 385.9H911.8" stroke="#22ade6" stroke-width="1.9" stroke-dasharray="4.4 3.9"/>
<text x="739.69" y="415.8" font-size="22.3" textLength="8.06" lengthAdjust="spacingAndGlyphs" font-style="italic">I</text>
<text x="748.63" y="418.4" font-size="14.2" textLength="8.85" lengthAdjust="spacingAndGlyphs">0</text>
<path d="M763.7 407.8H778.5" stroke="#3c3c3c" stroke-width="1.1"/>
<path d="M763.7 411.9H778.5" stroke="#3c3c3c" stroke-width="1.1"/>
<text x="785.05" y="415.8" font-size="22" textLength="65.96" lengthAdjust="spacingAndGlyphs">39.700</text>
<path d="M865.1 406.1H911.8" stroke="#e6167f" stroke-width="1.9" stroke-dasharray="8 8.7"/>
<text x="739.69" y="437" font-size="22.3" textLength="8.06" lengthAdjust="spacingAndGlyphs" font-style="italic">I</text>
<text x="748.63" y="439.6" font-size="14.2" textLength="8.85" lengthAdjust="spacingAndGlyphs">0</text>
<path d="M763.7 429H778.5" stroke="#3c3c3c" stroke-width="1.1"/>
<path d="M763.7 433.1H778.5" stroke="#3c3c3c" stroke-width="1.1"/>
<text x="785.05" y="437" font-size="22" textLength="65.99" lengthAdjust="spacingAndGlyphs">39.695</text>
<path d="M865.1 426.3H911.8" stroke="#3a2c92" stroke-width="1.9"/>
<text x="739.69" y="455.9" font-size="22.3" textLength="8.06" lengthAdjust="spacingAndGlyphs" font-style="italic">I</text>
<text x="748.63" y="458.5" font-size="14.2" textLength="8.85" lengthAdjust="spacingAndGlyphs">0</text>
<path d="M763.7 447.9H778.5" stroke="#3c3c3c" stroke-width="1.1"/>
<path d="M763.7 452H778.5" stroke="#3c3c3c" stroke-width="1.1"/>
<text x="785.06" y="455.9" font-size="22" textLength="65.41" lengthAdjust="spacingAndGlyphs">39.694</text>
<path d="M865.1 446.7H911.8" stroke="#0aa24b" stroke-width="1.9" stroke-dasharray="8 4.4 2.2 4.4"/>
<text x="739.69" y="474.6" font-size="22.3" textLength="8.06" lengthAdjust="spacingAndGlyphs" font-style="italic">I</text>
<text x="748.63" y="477.2" font-size="14.2" textLength="8.85" lengthAdjust="spacingAndGlyphs">0</text>
<path d="M763.7 466.6H778.5" stroke="#3c3c3c" stroke-width="1.1"/>
<path d="M763.7 470.7H778.5" stroke="#3c3c3c" stroke-width="1.1"/>
<text x="785.05" y="474.6" font-size="22" textLength="65.99" lengthAdjust="spacingAndGlyphs">39.693</text>
<path d="M865.1 467.3H911.8" stroke="#ee1c25" stroke-width="1.9" stroke-dasharray="12 4.6 2.2 3.9 2.2 4.4"/>
</svg>
</body></html>
